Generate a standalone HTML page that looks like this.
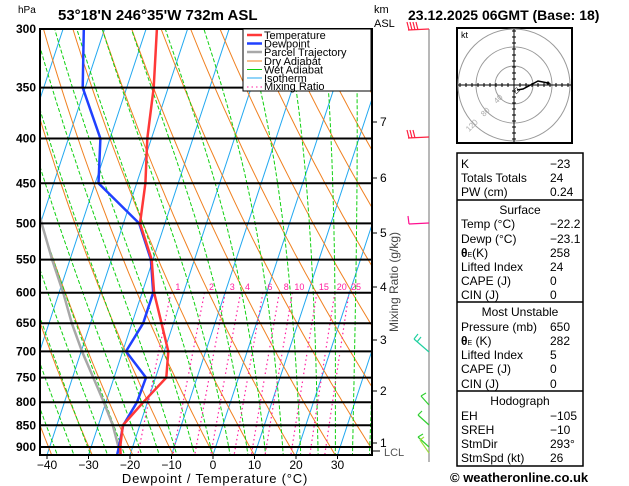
<!DOCTYPE html>
<html><head><meta charset="utf-8">
<style>
body{margin:0;background:#fff;}
svg{display:block;font-family:"Liberation Sans",sans-serif;}
</style></head>
<body>
<svg id="c" width="629" height="486" viewBox="0 0 629 486" xmlns="http://www.w3.org/2000/svg">
<defs><clipPath id="pc"><rect x="40" y="29" width="332" height="426"/></clipPath></defs>
<g id="bg" clip-path="url(#pc)"></g>
<g id="plot" clip-path="url(#pc)"></g>
<g id="axes"></g>
</svg>
<script>
const levels=[300,350,400,450,500,550,600,650,700,750,800,850,900,920];
const tempC=[-47.4,-43.5,-41.0,-37.9,-36.0,-30.3,-27.1,-22.9,-19.0,-17.4,-21.0,-24.1,-23.0,-22.2];
const dewC=[-65,-60.6,-52.3,-49.2,-36.2,-30.5,-27.3,-27.3,-29.2,-22.3,-22.5,-24.0,-23.3,-23.1];
const parcelP=[920,900,850,800,750,700,650,600,550,500,450];
const parcelC=[-22.2,-23.4,-26.5,-30.5,-35.0,-39.8,-44.5,-49.0,-54.3,-59.7,-65.5];
const isoLevels=[300,350,400,450,500,550,600,650,700,750,800,850,900];
const tempTicks=[-40,-30,-20,-10,0,10,20,30];
const mixRatios=[1,2,3,4,6,8,10,15,20,25];
const kmTicks=[[7,122],[6,178],[5,233],[4,287],[3,340],[2,391],[1,443]];
const NS="http://www.w3.org/2000/svg";
const X0=213,PX=4.15,K=0.33,YB=455;
function yP(p){return 29+380.5*Math.log(p/300);}
function xT(t,p){return X0+PX*t+K*(YB-yP(p));}
function mk(tag,attrs,parent){const e=document.createElementNS(NS,tag);for(const k in attrs)e.setAttribute(k,attrs[k]);parent.appendChild(e);return e;}
const bg=document.getElementById('bg'),plot=document.getElementById('plot'),axes=document.getElementById('axes');
function pathFrom(ps,ts){return ps.map((p,i)=>(i?'L':'M')+xT(ts[i],p).toFixed(1)+','+yP(p).toFixed(1)).join('');}
for(let t=-130;t<=50;t+=10){const l=mk('line',{x1:xT(t,940),y1:yP(940),x2:xT(t,290),y2:yP(290),stroke:'#22a8f0','stroke-width':1},bg);
}
const pr=[];for(let p=290;p<=940;p+=10)pr.push(p);
for(let th=200;th<=480;th+=10){const ts=pr.map(p=>th*Math.pow(p/1000,0.286)-273.15);const e=mk('path',{d:pathFrom(pr,ts),fill:'none',stroke:'#f08020','stroke-width':1},bg);
}
function es(t){return 6.112*Math.exp(17.67*t/(t+243.5));}
function moist(t0){const ps=[],ts=[];let t=t0;for(let p=1000;p>=290;p-=5){ps.push(p);ts.push(t);
const T=t+273.15,e=es(t),r=0.622*e/(p-e),L=2.5e6;const g=(0.2857*T+L*r/1004)/(p*(1+L*L*r*0.622/(1004*287*T*T)));t-=g*5;}return [ps,ts];}
for(let t0=-40;t0<=40;t0+=4){const [ps,ts]=moist(t0);const e=mk('path',{d:pathFrom(ps,ts),fill:'none',stroke:'#10d010','stroke-width':1,'stroke-dasharray':'4,2'},bg);
}
function tdW(w,p){const e=w*p/(622+w),a=Math.log(e/6.112);return 243.5*a/(17.67-a);}
mixRatios.forEach(w=>{const ps=[600,700,800,900,940];const ts=ps.map(p=>tdW(w,p));
const e=mk('path',{d:pathFrom(ps,ts),fill:'none',stroke:'#ff20a0','stroke-width':1.2,'stroke-dasharray':'1.5,3'},bg);

const tx=mk('text',{x:xT(tdW(w,600),600)+7,y:290,'font-size':9,fill:'#ff20a0','text-anchor':'middle'},axes);tx.textContent=w;
});
isoLevels.forEach(p=>{const l=mk('line',{x1:40,x2:372,y1:yP(p),y2:yP(p),stroke:'#000','stroke-width':2},axes);

const t=mk('text',{x:36,y:yP(p)+4,'font-size':12,'font-weight':'bold','text-anchor':'end'},axes);t.textContent=p;
});
let e=mk('path',{d:pathFrom(parcelP,parcelC),fill:'none',stroke:'#a8a8a8','stroke-width':2.5},plot);

e=mk('path',{d:pathFrom(levels,dewC),fill:'none',stroke:'#2040ff','stroke-width':2.5},plot);

e=mk('path',{d:pathFrom(levels,tempC),fill:'none',stroke:'#ff3838','stroke-width':2.5},plot);

e=mk('rect',{x:40,y:29,width:332,height:426,fill:'none',stroke:'#000','stroke-width':2},axes);

tempTicks.forEach(t=>{const x=X0+PX*t;mk('line',{x1:x,x2:x,y1:455,y2:459,stroke:'#000'},axes);
const tx=mk('text',{x:x,y:469,'font-size':12,'text-anchor':'middle'},axes);tx.textContent=(t<0?'\u2212'+(-t):t);
});
kmTicks.forEach(k=>{mk('line',{x1:372,x2:377,y1:k[1],y2:k[1],stroke:'#000'},axes);
const tx=mk('text',{x:380,y:k[1]+4,'font-size':12},axes);tx.textContent=k[0];
});
</script>
<svg style="position:absolute;left:0;top:0" width="629" height="486">
<g font-family="Liberation Sans, sans-serif">
<text x="18" y="13" font-size="10">hPa</text>
<text x="58" y="20" font-size="15" font-weight="bold">53°18'N  246°35'W  732m  ASL</text>
<text x="408" y="20" font-size="14" font-weight="bold">23.12.2025  06GMT  (Base: 18)</text>
<text x="374" y="13" font-size="11">km</text>
<text x="374" y="27" font-size="11">ASL</text>
<text x="384" y="456" font-size="11" fill="#555">LCL</text>
<line x1="372" y1="451" x2="380" y2="451" stroke="#000"/>
<text x="215" y="483" font-size="13" text-anchor="middle" letter-spacing="0.8">Dewpoint / Temperature (°C)</text>
<text transform="translate(398,282) rotate(-90)" font-size="12" text-anchor="middle" fill="#444">Mixing Ratio (g/kg)</text>
<g font-size="11">
<rect x="243" y="29" width="128" height="62" fill="#fff" stroke="#000" stroke-width="1"/>
<line x1="247" x2="262" y1="35" y2="35" stroke="#ff3838" stroke-width="2.5"/><text x="264" y="39">Temperature</text>
<line x1="247" x2="262" y1="43.5" y2="43.5" stroke="#2040ff" stroke-width="2.5"/><text x="264" y="47.5">Dewpoint</text>
<line x1="247" x2="262" y1="52" y2="52" stroke="#a8a8a8" stroke-width="2.5"/><text x="264" y="56">Parcel Trajectory</text>
<line x1="247" x2="262" y1="61" y2="61" stroke="#f08020"/><text x="264" y="65">Dry Adiabat</text>
<line x1="247" x2="262" y1="69.5" y2="69.5" stroke="#10d010"/><text x="264" y="73.5">Wet Adiabat</text>
<line x1="247" x2="262" y1="78" y2="78" stroke="#22a8f0"/><text x="264" y="82">Isotherm</text>
<line x1="247" x2="262" y1="87" y2="87" stroke="#ff20a0" stroke-dasharray="1.5,3"/><text x="264" y="90">Mixing Ratio</text>
</g>
<g fill="none" stroke-width="1.2">
<line x1="429" y1="29" x2="429" y2="462" stroke="#888"/>
<path d="M429,29 L408,30 M409,30 L407,22 M412,30 L410,22 M415,30 L413,22 M418,30 L416,22" stroke="#ff2040"/>
<path d="M429,137 L408,138 M409,138 L407,130 M412,138 L410,130 M415,138 L413,130" stroke="#ff2040"/>
<path d="M429,223 L409,224 M409,224 L408,216" stroke="#ff1090"/>
<path d="M429,352 L414,339 M414,339 L418,334 M417,342 L421,337" stroke="#20d0a0"/>
<path d="M429,405 L421,396 M421,396 L426,393 M429,425 L418,415 M418,415 L422,411 M429,447 L418,437 M418,437 L423,434" stroke="#30d030"/>
<path d="M429,453 L420,440 M420,440 L424,437" stroke="#a0e040"/>
</g>
<g>
<rect x="457" y="28" width="115" height="115" fill="#fff" stroke="#000" stroke-width="2"/>
<text x="461" y="38" font-size="9">kt</text>
<circle cx="514" cy="85" r="19" fill="none" stroke="#999"/>
<circle cx="514" cy="85" r="38" fill="none" stroke="#999"/>
<circle cx="514" cy="85" r="56" fill="none" stroke="#999"/>
<line x1="458" x2="571" y1="85" y2="85" stroke="#000"/>
<line x1="514" x2="514" y1="29" y2="142" stroke="#000"/>
<path d="M460,83v4M466,83v4M472,83v4M478,83v4M484,83v4M490,83v4M496,83v4M502,83v4M508,83v4M520,83v4M526,83v4M532,83v4M538,83v4M544,83v4M550,83v4M556,83v4M562,83v4M568,83v4M512,31h4M512,37h4M512,43h4M512,49h4M512,55h4M512,61h4M512,67h4M512,73h4M512,79h4M512,91h4M512,97h4M512,103h4M512,109h4M512,115h4M512,121h4M512,127h4M512,133h4M512,139h4" stroke="#000"/>
<g font-size="8" fill="#aaa">
<text transform="translate(497,104) rotate(-45)">40</text>
<text transform="translate(484,117) rotate(-45)">80</text>
<text transform="translate(469,132) rotate(-45)">120</text>
</g>
<path d="M517,90 L523,89 L538,81 L548,83" fill="none" stroke="#000" stroke-width="1.5"/>
<circle cx="548" cy="83" r="1.5" fill="#000"/>
<text x="513" y="93" font-size="9">◇</text>
</g>
<g font-size="12">
<rect x="457" y="153" width="126" height="313" fill="#fff" stroke="#000" stroke-width="1.5"/>
<line x1="457" x2="583" y1="200" y2="200" stroke="#000" stroke-width="1.5"/>
<line x1="457" x2="583" y1="302" y2="302" stroke="#000" stroke-width="1.5"/>
<line x1="457" x2="583" y1="391" y2="391" stroke="#000" stroke-width="1.5"/>
<g>
<text x="461" y="168">K</text><text x="550" y="168">−23</text>
<text x="461" y="182">Totals Totals</text><text x="550" y="182">24</text>
<text x="461" y="196">PW (cm)</text><text x="550" y="196">0.24</text>
<text x="520" y="214" text-anchor="middle">Surface</text>
<text x="461" y="228">Temp (°C)</text><text x="550" y="228">−22.2</text>
<text x="461" y="243">Dewp (°C)</text><text x="550" y="243">−23.1</text>
<text x="461" y="257"><tspan font-weight="bold">θ</tspan><tspan font-size="7">E</tspan>(K)</text><text x="550" y="257">258</text>
<text x="461" y="271">Lifted Index</text><text x="550" y="271">24</text>
<text x="461" y="285">CAPE (J)</text><text x="550" y="285">0</text>
<text x="461" y="299">CIN (J)</text><text x="550" y="299">0</text>
<text x="520" y="316" text-anchor="middle">Most Unstable</text>
<text x="461" y="331">Pressure (mb)</text><text x="550" y="331">650</text>
<text x="461" y="345"><tspan font-weight="bold">θ</tspan><tspan font-size="7">E</tspan> (K)</text><text x="550" y="345">282</text>
<text x="461" y="359">Lifted Index</text><text x="550" y="359">5</text>
<text x="461" y="373">CAPE (J)</text><text x="550" y="373">0</text>
<text x="461" y="388">CIN (J)</text><text x="550" y="388">0</text>
<text x="520" y="405" text-anchor="middle">Hodograph</text>
<text x="461" y="420">EH</text><text x="550" y="420">−105</text>
<text x="461" y="434">SREH</text><text x="550" y="434">−10</text>
<text x="461" y="448">StmDir</text><text x="550" y="448">293°</text>
<text x="461" y="462">StmSpd (kt)</text><text x="550" y="462">26</text>
</g>
</g>
<text x="450" y="482" font-size="13" font-weight="bold">© weatheronline.co.uk</text>
</g>
</svg>
</body></html>
